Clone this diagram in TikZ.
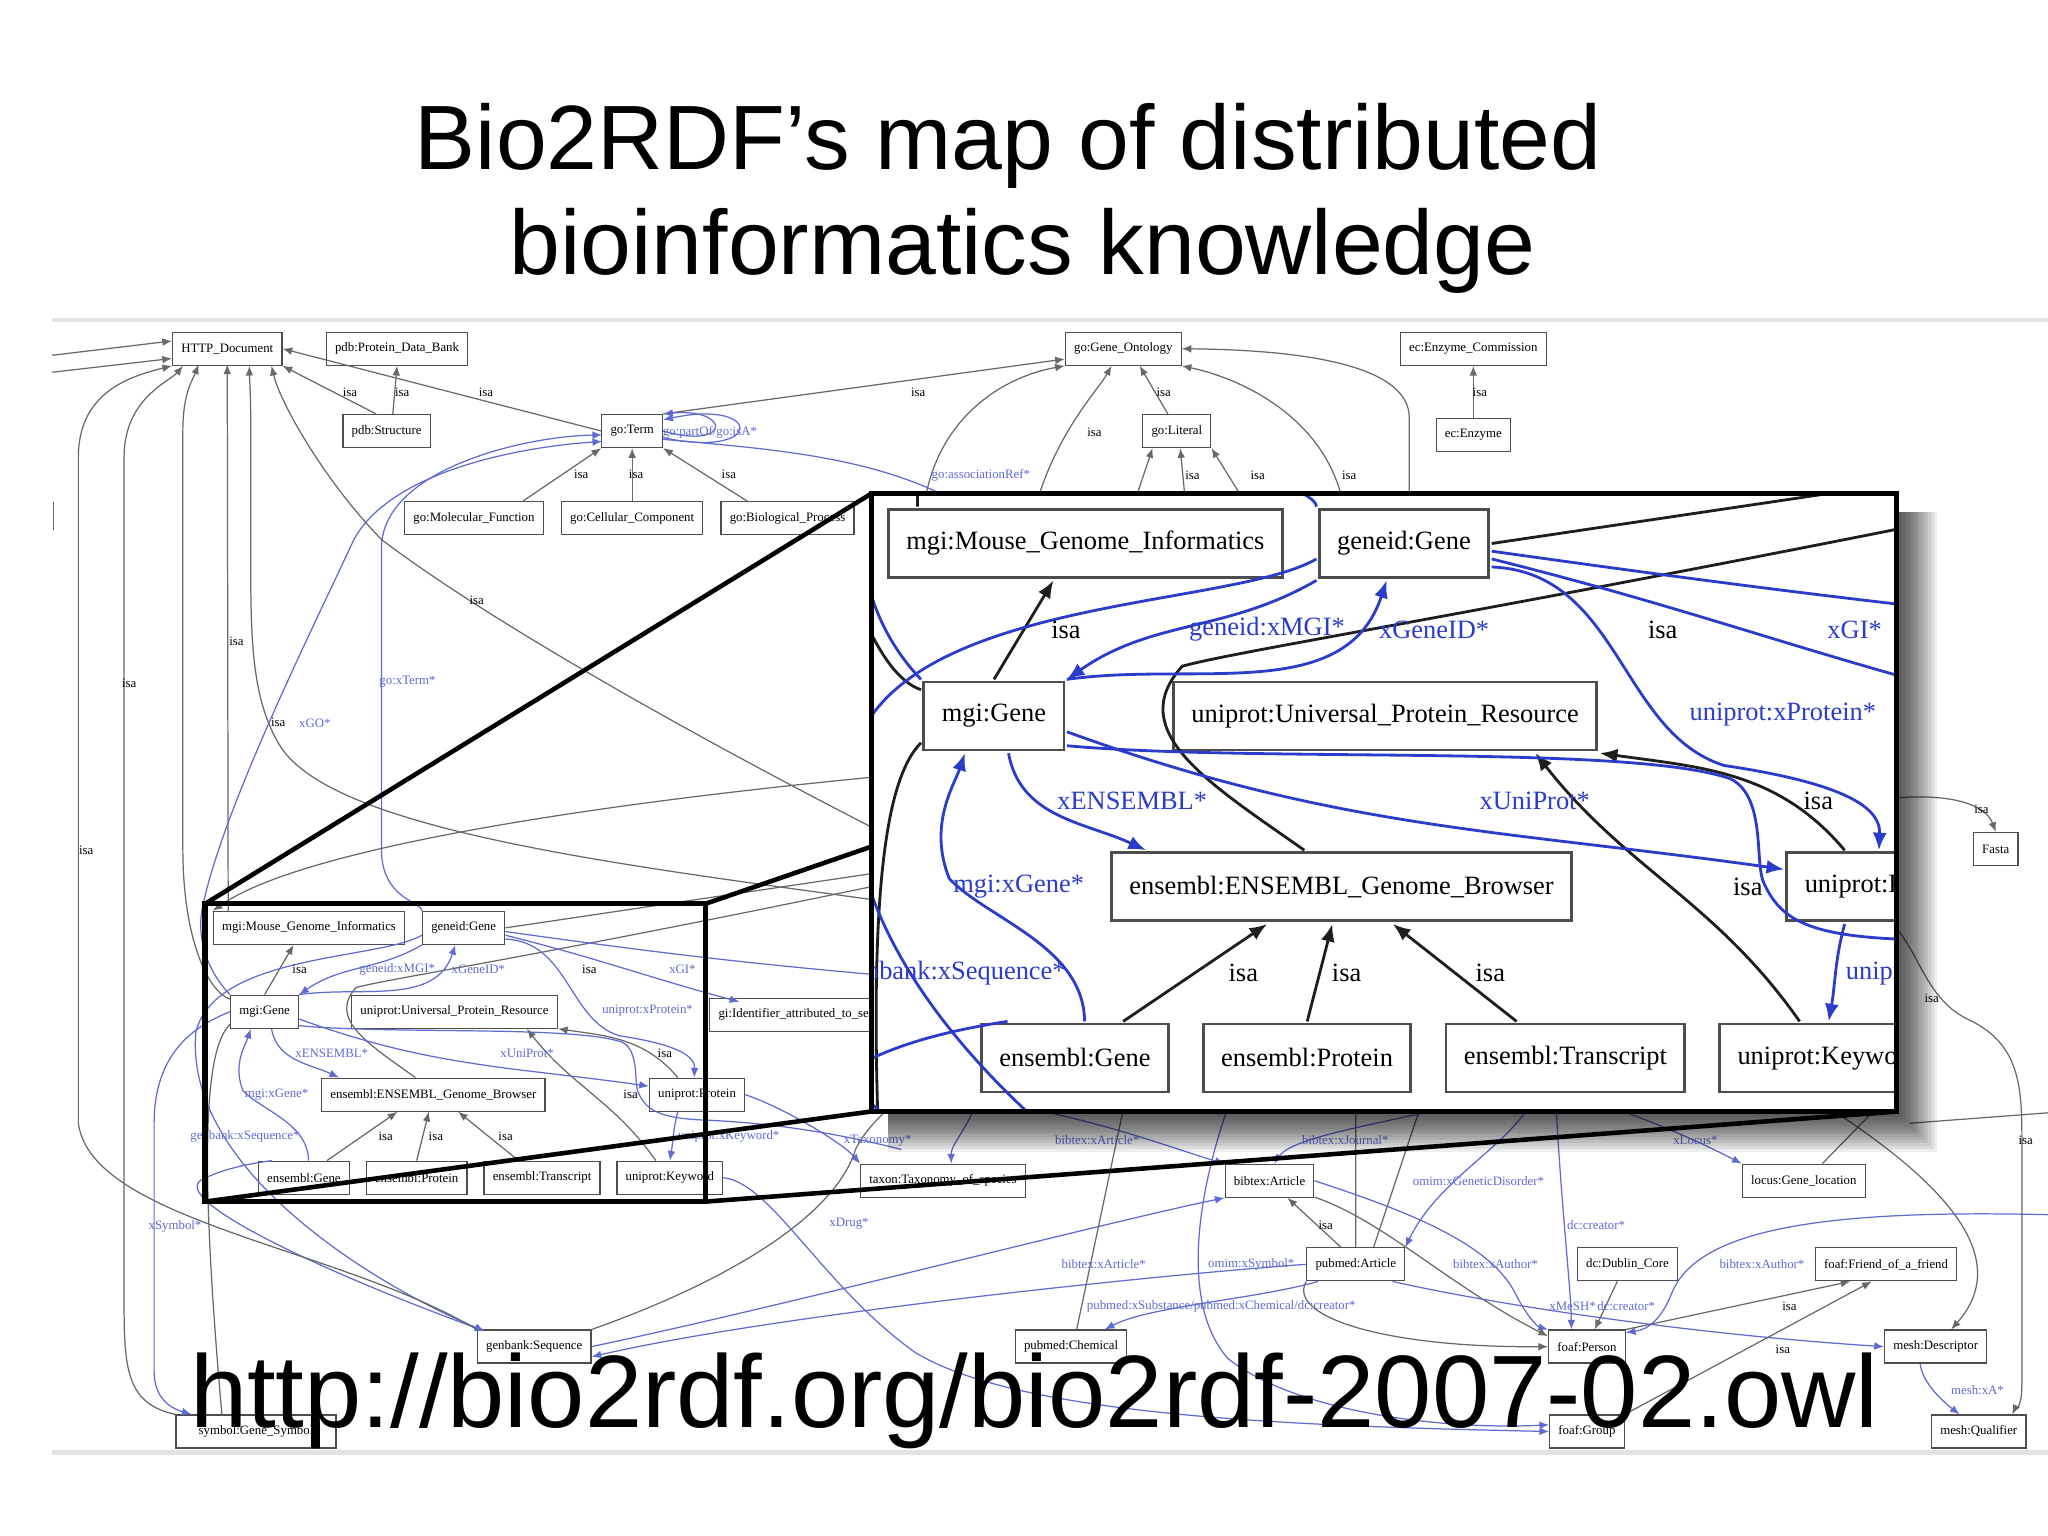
\documentclass[tikz,border=0pt]{standalone}
\usepackage{fontspec}
\setmainfont{Liberation Sans}
\newfontfamily\graphfont{Liberation Serif}
\usetikzlibrary{arrows.meta,calc,positioning}
\definecolor{linkblue}{HTML}{2B3CCB}
\definecolor{linkgray}{HTML}{1E1E1E}
\definecolor{fadeblue}{HTML}{5F6AD2}
\definecolor{fadegray}{HTML}{686868}
\definecolor{boxgray}{HTML}{4D4D4D}
\definecolor{rulegray}{HTML}{E2E2E2}
\colorlet{curblue}{fadeblue}
\colorlet{curgray}{fadegray}
\newcommand{\linkwidth}{0.35pt}
\tikzset{
    > = {Latex[length=1pt 5, width=0.8pt 4]},
    boxnode/.style = {
        draw = boxgray,
        line width = \linkwidth,
        fill = white,
        text = black,
        font = \graphfont\fontsize{3.65}{4.4}\selectfont,
        inner xsep = 0.87mm,
        inner ysep = 0pt,
        minimum height = 3.3mm
    },
    isaedge/.style = {draw = curgray, line width = \linkwidth, ->},
    refedge/.style = {draw = curblue, line width = \linkwidth, ->},
    isalabel/.style = {font = \graphfont\fontsize{3.65}{4.4}\selectfont, text = black, inner sep = 0pt},
    reflabel/.style = {font = \graphfont\fontsize{3.65}{4.4}\selectfont, text = curblue, inner sep = 0pt},
    zoomframe/.style = {draw = black, line width = 1.5pt},
    zoomray/.style = {draw = black, line width = 1.3pt},
    titletext/.style = {font = \fontsize{26}{30}\selectfont, text = black, inner sep = 0pt},
    urltext/.style = {font = \fontsize{29.3}{33}\selectfont, text = black, inner sep = 0pt}
}

% the region that is drawn twice: small in the map, magnified in the big frame
\newcommand{\zoomgraph}{%
    \node (mgiMGI) [boxnode] at (236.6,710.4) {mgi:Mouse\_Genome\_Informatics};
    \node (geneidGene) [boxnode] at (355,710.4) {geneid:Gene};
    \node (mgiGene) [boxnode] at (202.6,774.6) {mgi:Gene};
    \node (uniUPR) [boxnode] at (348,774.6) {uniprot:Universal\_Protein\_Resource};
    \node (ensBrowser) [boxnode] at (331.8,838.1) {ensembl:ENSEMBL\_Genome\_Browser};
    \node (uniProt) [boxnode] at (533.7,838.1) {uniprot:Protein};
    \node (ensGene) [boxnode] at (232.7,901.7) {ensembl:Gene};
    \node (ensProtein) [boxnode] at (319,901.7) {ensembl:Protein};
    \node (ensTranscript) [boxnode] at (415,901.7) {ensembl:Transcript};
    \node (uniKeyword) [boxnode] at (512.8,901.7) {uniprot:Keyword};
    %far ends
    \coordinate (zHttp) at (174,279);
    \coordinate (zHttpB) at (152,279);
    \coordinate (zGoTermA) at (461,333);
    \coordinate (zGoTermB) at (461,338);
    \coordinate (zGi) at (566,767);
    \coordinate (zGiB) at (690,748);
    \coordinate (zGenbank) at (371,1019);
    \coordinate (zUpRight) at (700,672);
    \coordinate (zUpRightB) at (680,667);
    \coordinate (zLowRight) at (690,880);
    \coordinate (zSymbol) at (170,1084);
    %isa
    \draw[isaedge] (mgiGene.north) -- ($(mgiMGI.south west)!0.42!(mgiMGI.south east)$);
    \draw[isaedge] ($(ensGene.north west)!0.75!(ensGene.north east)$) -- ($(ensBrowser.south west)!0.34!(ensBrowser.south east)$);
    \draw[isaedge] (ensProtein.north) -- ($(ensBrowser.south west)!0.48!(ensBrowser.south east)$);
    \draw[isaedge] ($(ensTranscript.north west)!0.3!(ensTranscript.north east)$) -- ($(ensBrowser.south west)!0.61!(ensBrowser.south east)$);
    \draw[isaedge] ($(uniProt.north west)!0.3!(uniProt.north east)$) to[out=130, in=-8] (uniUPR.south east);
    \draw[isaedge] ($(uniKeyword.north west)!0.37!(uniKeyword.north east)$) to[out=125, in=-52] ($(uniUPR.south west)!0.85!(uniUPR.south east)$);
    \draw[isaedge] ($(mgiMGI.north west)!0.08!(mgiMGI.north east)$) -- (zHttp);
    \draw[isaedge] (mgiGene.160) .. controls (160,760) and (140,720) .. (140,650) -- (140,330) .. controls (140,300) and (148,290) .. (zHttpB);
    \draw[isaedge, -] ($(ensBrowser.north west)!0.42!(ensBrowser.north east)$) .. controls (282.7,799.7) and (250.7,780.3) .. (272.6,756.1) .. controls (299.3,748.8) and (415.7,731.8) .. (zUpRight);
    \draw[isaedge, -] (geneidGene.east) -- (zUpRightB);
    \draw[isaedge, -] (mgiGene.200) .. controls (160,800) and (150,860) .. (zSymbol);
    %cross references
    \draw[refedge] (geneidGene.south west) to[out=210, in=35] (mgiGene.north east);
    \draw[refedge] (mgiGene.north east) to[out=8, in=-108] ($(geneidGene.south west)!0.4!(geneidGene.south east)$);
    \draw[refedge] (geneidGene.-15) .. controls (435.2,721.1) and (435.2,780.8) .. (474,793) .. controls (522.5,800.2) and (532.2,809.9) .. ($(uniProt.north west)!0.47!(uniProt.north east)$);
    \draw[refedge] (geneidGene.-10) to[out=-14, in=165] (zGi);
    \draw[refedge, -] (geneidGene.-5) to[out=-8, in=175] (zGiB);
    \draw[refedge] (mgiGene.-12) to[out=-20, in=172] (uniProt.170);
    \draw[refedge, -] (mgiGene.-22) .. controls (300,792) and (440,785) .. (476.5,798) .. controls (490,805) and (485,830) .. (489,837.2) .. controls (495,850) and (505,856) .. (538,857.5) .. controls (600,860) and (650,870) .. (zLowRight);
    \draw[refedge] ($(mgiGene.south west)!0.6!(mgiGene.south east)$) to[out=-80, in=155] ($(ensBrowser.north west)!0.08!(ensBrowser.north east)$);
    \draw[refedge] ($(ensGene.north west)!0.55!(ensGene.north east)$) .. controls (236,860) and (200,850) .. (186,835) .. controls (178,815) and (188,800) .. ($(mgiGene.south west)!0.3!(mgiGene.south east)$);
    \draw[refedge] ($(ensGene.north west)!0.15!(ensGene.north east)$) .. controls (182.7,892) and (168.2,896.8) .. (157.5,901.7) .. controls (120,915) and (250,975) .. (zGenbank);
    \draw[refedge] ($(uniProt.south west)!0.3!(uniProt.south east)$) to[out=-105, in=80] (uniKeyword.north);
    \draw[refedge] (geneidGene.190) .. controls (290,735) and (165,730) .. (150,790) .. controls (140,900) and (300,990) .. (zGenbank);
    \draw[refedge] (geneidGene.north west) .. controls (322,690) and (292,688) .. (292,650) -- (292,420) .. controls (292,360) and (400,334) .. (zGoTermA);
    \draw[refedge] (mgiGene.north west) .. controls (160,745) and (150,720) .. (155,695) .. controls (170,620) and (240,480) .. (271,413) .. controls (300,360) and (400,342) .. (zGoTermB);
    %labels
    \node (zlIsaA) [isalabel] at (229.4,742.5) {isa};
    \node (zlMGI) [reflabel] at (304.1,742.5) {geneid:xMGI*};
    \node (zlGeneID) [reflabel] at (366.2,742.5) {xGeneID*};
    \node (zlIsaB) [isalabel] at (451.2,742.5) {isa};
    \node (zlGI) [reflabel] at (522.5,742.5) {xGI*};
    \node (zlProtein) [reflabel] at (495.8,774) {uniprot:xProtein*};
    \node (zlEnsembl) [reflabel] at (254,806.1) {xENSEMBL*};
    \node (zlUniProt) [reflabel] at (403.6,806.1) {xUniProt*};
    \node (zlIsaC) [isalabel] at (509,806.1) {isa};
    \node (zlGene) [reflabel] at (211.8,838.1) {mgi:xGene*};
    \node (zlIsaD) [isalabel] at (482.8,838.1) {isa};
    \node (zlSeq) [reflabel, anchor=east] at (229.8,870.2) {genbank:xSequence*};
    \node (zlIsaE) [isalabel] at (295.3,870.2) {isa};
    \node (zlIsaF) [isalabel] at (333.7,870.2) {isa};
    \node (zlIsaG) [isalabel] at (387.1,870.2) {isa};
    \node (zlKeyword) [reflabel, anchor=west] at (518.7,870.2) {uniprot:xKeyword*};
}

\begin{document}
\begin{tikzpicture}[x=0.13061mm, y=-0.13061mm]
    \useasboundingbox (0,0) rectangle (1568,1176);
    \fill[white] (0,0) rectangle (1568,1176);

%add title
    \node (title1) [titletext, anchor=base] at (772,130) {Bio2RDF’s map of distributed};
    \node (title2) [titletext, anchor=base] at (783,210) {bioinformatics knowledge};

%frame of the map
    \coordinate (ruleTL) at (40,245);
    \coordinate (ruleTR) at (1568,245);
    \coordinate (ruleBL) at (40,1112);
    \coordinate (ruleBR) at (1568,1112);
    \draw[rulegray, line width=1.2pt] (ruleTL) -- (ruleTR);
    \draw[rulegray, line width=1.2pt] (ruleBL) -- (ruleBR);
    \coordinate (tickA) at (41,384);
    \coordinate (tickB) at (41,406);
    \draw[fadegray, line width=0.5pt] (tickA) -- (tickB);
    \coordinate (inNW) at (157,692);
    \coordinate (inNE) at (540,692);
    \coordinate (inSW) at (157,920);
    \coordinate (inSE) at (540,920);
    \coordinate (bigNW) at (667,378);
    \coordinate (bigNE) at (1452,378);
    \coordinate (bigSW) at (667,851);
    \coordinate (bigSE) at (1452,851);

%nodes of the map
    \node (http) [boxnode] at (174,267) {HTTP\_Document};
    \node (pdbPDB) [boxnode] at (304,267) {pdb:Protein\_Data\_Bank};
    \node (goGO) [boxnode] at (860,267) {go:Gene\_Ontology};
    \node (ecEC) [boxnode] at (1128,267) {ec:Enzyme\_Commission};
    \node (pdbStruct) [boxnode] at (296,330) {pdb:Structure};
    \node (goTerm) [boxnode] at (484,330) {go:Term};
    \node (goLit) [boxnode] at (901,330) {go:Literal};
    \node (ecEnz) [boxnode, below=5.2mm of ecEC] {ec:Enzyme};
    \node (goCC) [boxnode, below=5.3mm of goTerm] {go:Cellular\_Component};
    \node (goMF) [boxnode, left=1.7mm of goCC] {go:Molecular\_Function};
    \node (goBP) [boxnode, right=1.7mm of goCC] {go:Biological\_Process};
    \node (fasta) [boxnode] at (1528,650) {Fasta};
    \node (giId) [boxnode, anchor=west] at (543,777) {gi:Identifier\_attributed\_to\_sequence};
    \node (taxon) [boxnode] at (722,904) {taxon:Taxonomy\_of\_species};
    \node (bibArt) [boxnode] at (972,904) {bibtex:Article};
    \node (locus) [boxnode] at (1381,904) {locus:Gene\_location};
    \node (pmArt) [boxnode] at (1038,968) {pubmed:Article};
    \node (dc) [boxnode] at (1246,968) {dc:Dublin\_Core};
    \node (foafFriend) [boxnode] at (1444,968) {foaf:Friend\_of\_a\_friend};
    \node (genbank) [boxnode] at (409,1031) {genbank:Sequence};
    \node (pmChem) [boxnode] at (820,1031) {pubmed:Chemical};
    \node (foafPerson) [boxnode] at (1215,1031) {foaf:Person};
    \node (meshDesc) [boxnode] at (1482,1031) {mesh:Descriptor};
    \node (foafGroup) [boxnode] at (1215,1096) {foaf:Group};
    \node (meshQual) [boxnode] at (1515,1096) {mesh:Qualifier};
    \node (symbol) [boxnode, minimum width=16mm] at (196,1096) {symbol:Gene\_Symbol};

%small copy of the zoomed region
    \zoomgraph

%links at the top
    \coordinate (inA) at (40,272);
    \coordinate (inB) at (40,285);
    \draw[isaedge] (inA) -- (http.172);
    \draw[isaedge] (inB) -- (http.190);
    \draw[isaedge] ($(pdbStruct.north west)!0.38!(pdbStruct.north east)$) -- (http.south east);
    \draw[isaedge] ($(pdbStruct.north west)!0.57!(pdbStruct.north east)$) -- (pdbPDB.south);
    \draw[isaedge] (goTerm.west) -- (http.east);
    \draw[isaedge] ($(goMF.north west)!0.85!(goMF.north east)$) -- (goTerm.south west);
    \draw[isaedge] (goCC.north) -- (goTerm.south);
    \draw[isaedge] ($(goBP.north west)!0.2!(goBP.north east)$) -- (goTerm.south east);
    \draw[isaedge] (goTerm.north east) -- (goGO.190);
    \draw[isaedge] ($(goLit.north west)!0.37!(goLit.north east)$) -- ($(goGO.south west)!0.64!(goGO.south east)$);
    \draw[isaedge] (ecEnz.north) -- (ecEC.south);
    \coordinate (upA) at (706,410);
    \coordinate (upB) at (788,410);
    \coordinate (upC) at (1031,410);
    \coordinate (upD) at (1079,410);
    \coordinate (upE) at (860,410);
    \coordinate (upF) at (910,410);
    \coordinate (upG) at (969,410);
    \coordinate (upH) at (770,410);
    \draw[isaedge] (upA) .. controls (706,330) and (760,290) .. (goGO.south west);
    \draw[isaedge] (upB) .. controls (800,340) and (840,300) .. ($(goGO.south west)!0.4!(goGO.south east)$);
    \draw[isaedge] (upC) .. controls (1030,330) and (960,292) .. (goGO.south east);
    \draw[isaedge] (upD) -- (1079,320) .. controls (1079,280) and (1000,268) .. (goGO.east);
    \draw[isaedge] (upE) -- ($(goLit.south west)!0.15!(goLit.south east)$);
    \draw[isaedge] (upF) -- ($(goLit.south west)!0.55!(goLit.south east)$);
    \draw[isaedge] (upG) -- (goLit.south east);
    \draw[refedge] (goTerm.east) .. controls (560,345) and (560,312) .. (goTerm.north east);
    \draw[refedge] (goTerm.-12) .. controls (585,352) and (585,305) .. (goTerm.20);
    \draw[refedge, -] (goTerm.-15) .. controls (600,345) and (700,350) .. (upH);

%links down the left side
    \draw[isaedge] (genbank.north west) .. controls (260,955) and (70,935) .. (60,860) -- (60,350) .. controls (60,300) and (100,288) .. (http.south west);
    \draw[isaedge] (symbol.north west) .. controls (98,1075) and (95,1050) .. (95,1000) -- (95,350) .. controls (95,305) and (130,292) .. ($(http.south west)!0.1!(http.south east)$);
    \coordinate (downA) at (720,696);
    \coordinate (downB) at (720,660);
    \coordinate (downC) at (700,592);
    \draw[isaedge] (downA) .. controls (500,665) and (260,640) .. (215,572) .. controls (195,540) and (192,500) .. (192,440) -- (192,330) .. controls (192,300) and (191,290) .. ($(http.south west)!0.7!(http.south east)$);
    \draw[isaedge] (downB) .. controls (560,580) and (380,480) .. (292,413) .. controls (250,370) and (215,310) .. ($(http.south west)!0.9!(http.south east)$);
    \draw[isaedge] (downC) .. controls (450,615) and (230,650) .. (mgiMGI.north west);
    \draw[refedge] (mgiGene.west) .. controls (150,785) and (118,805) .. (118,860) -- (118,1050) .. controls (118,1070) and (130,1078) .. ($(symbol.north west)!0.1!(symbol.north east)$);

%links at the bottom
    \coordinate (taxUp) at (750,835);
    \coordinate (seqUp) at (700,830);
    \draw[refedge] (uniProt.east) .. controls (600,848) and (645,875) .. (taxon.north west);
    \draw[refedge] (taxUp) .. controls (745,860) and (728,875) .. ($(taxon.north west)!0.55!(taxon.north east)$);
    \draw[isaedge, -] (genbank.north east) .. controls (560,980) and (640,930) .. (655,880) .. controls (665,860) and (680,850) .. (seqUp);
    \draw[refedge] (uniKeyword.east) .. controls (590,905) and (630,985) .. (700,1035) .. controls (780,1085) and (1000,1092) .. (foafGroup.west);
    \draw[refedge] (genbank.east) .. controls (600,1000) and (850,935) .. (bibArt.south west);
    \draw[refedge] (pmArt.west) .. controls (900,975) and (600,1005) .. (genbank.-10);
    \draw[isaedge] ($(pmArt.north west)!0.35!(pmArt.north east)$) -- ($(bibArt.south west)!0.7!(bibArt.south east)$);
    \coordinate (artUpA) at (1038,840);
    \coordinate (artUpB) at (1090,840);
    \draw[isaedge, -] ($(pmArt.north west)!0.5!(pmArt.north east)$) -- (artUpA);
    \draw[isaedge, -] ($(pmArt.north west)!0.68!(pmArt.north east)$) -- (artUpB);
    \coordinate (articleIn) at (770,845);
    \coordinate (journalIn) at (1120,845);
    \coordinate (omimIn) at (1170,848);
    \coordinate (symbolIn) at (940,848);
    \draw[refedge] (articleIn) .. controls (850,860) and (900,880) .. (bibArt.north west);
    \draw[refedge] (journalIn) .. controls (1060,860) and (990,870) .. ($(bibArt.north west)!0.55!(bibArt.north east)$);
    \draw[refedge] (omimIn) .. controls (1150,880) and (1100,905) .. (pmArt.north east);
    \draw[refedge] (symbolIn) .. controls (915,920) and (905,1000) .. (940,1040) .. controls (990,1080) and (1100,1095) .. (foafGroup.170);
    \draw[refedge] (bibArt.east) .. controls (1070,925) and (1140,950) .. (1160,990) .. controls (1170,1010) and (1178,1016) .. (foafPerson.north west);
    \draw[isaedge] (bibArt.-20) .. controls (1060,935) and (1110,985) .. (foafPerson.165);
    \draw[isaedge] (pmArt.south west) .. controls (985,1008) and (1060,1032) .. (foafPerson.west);
    \draw[refedge] (pmArt.-25) .. controls (1150,1000) and (1300,1022) .. (meshDesc.west);
    \draw[refedge] ($(pmArt.south west)!0.12!(pmArt.south east)$) .. controls (960,995) and (880,1000) .. ($(pmChem.north west)!0.8!(pmChem.north east)$);
    \coordinate (chemUp) at (862,840);
    \draw[isaedge, -] ($(pmChem.north west)!0.55!(pmChem.north east)$) -- (chemUp);
    \draw[isaedge] ($(dc.south west)!0.4!(dc.south east)$) -- ($(foafPerson.north west)!0.6!(foafPerson.north east)$);
    \coordinate (creatorIn) at (1191,840);
    \draw[refedge] (creatorIn) .. controls (1195,920) and (1203,990) .. ($(foafPerson.north west)!0.3!(foafPerson.north east)$);
    \draw[isaedge] (foafPerson.north east) -- ($(foafFriend.south west)!0.25!(foafFriend.south east)$);
    \draw[isaedge] (foafGroup.north east) -- ($(foafFriend.south west)!0.4!(foafFriend.south east)$);
    \coordinate (authorIn) at (1568,930);
    \draw[refedge] (authorIn) .. controls (1400,926) and (1300,940) .. (1280,990) .. controls (1272,1010) and (1262,1018) .. (foafPerson.20);
    \coordinate (locusIn) at (1240,850);
    \coordinate (locusUp) at (1440,845);
    \draw[refedge] (locusIn) .. controls (1290,868) and (1320,884) .. (locus.north west);
    \draw[isaedge, -] ($(locus.north west)!0.65!(locus.north east)$) -- (locusUp);
    \coordinate (descIn) at (1400,848);
    \draw[isaedge] (descIn) .. controls (1480,900) and (1545,960) .. ($(meshDesc.north west)!0.65!(meshDesc.north east)$);
    \draw[refedge] ($(meshDesc.south west)!0.35!(meshDesc.south east)$) .. controls (1472,1060) and (1490,1075) .. ($(meshQual.north west)!0.3!(meshQual.north east)$);

%links on the right
    \coordinate (fastaIn) at (1440,612);
    \coordinate (qualIn) at (1440,700);
    \coordinate (edgeR) at (1568,852);
    \coordinate (edgeRB) at (1462,860);
    \draw[isaedge] (fastaIn) .. controls (1490,606) and (1520,615) .. (fasta.north);
    \draw[isaedge] (qualIn) .. controls (1470,720) and (1470,765) .. (1510,782) .. controls (1545,800) and (1548,830) .. (1548,870) -- (1548,1060) .. controls (1548,1080) and (1542,1080) .. ($(meshQual.north west)!0.85!(meshQual.north east)$);
    \draw[isaedge, -] (edgeR) -- (edgeRB);

%labels of the map
    \node (lIsa1) [isalabel] at (268,300) {isa};
    \node (lIsa2) [isalabel] at (308,300) {isa};
    \node (lIsa3) [isalabel] at (372,300) {isa};
    \node (lIsa4) [isalabel] at (445,363) {isa};
    \node (lIsa5) [isalabel] at (487,363) {isa};
    \node (lIsa6) [isalabel] at (558,363) {isa};
    \node (lIsa7) [isalabel] at (703,300) {isa};
    \node (lIsa8) [isalabel] at (838,331) {isa};
    \node (lIsa9) [isalabel] at (891,300) {isa};
    \node (lIsa10) [isalabel] at (913,364) {isa};
    \node (lIsa11) [isalabel] at (963,364) {isa};
    \node (lIsa12) [isalabel] at (1033,364) {isa};
    \node (lIsa13) [isalabel] at (1133,300) {isa};
    \node (lIsa14) [isalabel] at (66,651) {isa};
    \node (lIsa15) [isalabel] at (99,523) {isa};
    \node (lIsa16) [isalabel] at (181,491) {isa};
    \node (lIsa17) [isalabel] at (213,553) {isa};
    \node (lIsa18) [isalabel] at (365,460) {isa};
    \node (lIsa19) [isalabel] at (1015,938) {isa};
    \node (lIsa20) [isalabel] at (1370,1000) {isa};
    \node (lIsa21) [isalabel] at (1365,1033) {isa};
    \node (lIsa22) [isalabel] at (1517,620) {isa};
    \node (lIsa23) [isalabel] at (1479,764) {isa};
    \node (lIsa24) [isalabel] at (1551,873) {isa};
    \node (lPart) [reflabel, anchor=west] at (507,331) {go:partOf/go:isA*};
    \node (lAssoc) [reflabel] at (751,364) {go:associationRef*};
    \node (lXTerm) [reflabel] at (312,522) {go:xTerm*};
    \node (lXGO) [reflabel] at (241,554) {xGO*};
    \node (lTax) [reflabel] at (672,873) {xTaxonomy*};
    \node (lArtA) [reflabel] at (840,873) {bibtex:xArticle*};
    \node (lJournal) [reflabel] at (1030,873) {bibtex:xJournal*};
    \node (lLocus) [reflabel] at (1298,873) {xLocus*};
    \node (lOmim) [reflabel] at (1132,904) {omim:xGeneticDisorder*};
    \node (lSymbol) [reflabel] at (134,939) {xSymbol*};
    \node (lDrug) [reflabel] at (650,937) {xDrug*};
    \node (lArtB) [reflabel] at (845,968) {bibtex:xArticle*};
    \node (lOmimSym) [reflabel] at (958,968) {omim:xSymbol*};
    \node (lAuthA) [reflabel] at (1145,968) {bibtex:xAuthor*};
    \node (lAuthB) [reflabel] at (1349,968) {bibtex:xAuthor*};
    \node (lCreatorA) [reflabel] at (1222,938) {dc:creator*};
    \node (lSubst) [reflabel] at (935,1000) {pubmed:xSubstance/pubmed:xChemical/dc:creator*};
    \node (lMesh) [reflabel] at (1204,1000) {xMeSH*};
    \node (lCreatorB) [reflabel] at (1245,1000) {dc:creator*};
    \node (lQual) [reflabel] at (1514,1064) {mesh:xA*};

%zoom frame and rays
    \draw[zoomframe] (inNW) rectangle (inSE);
    \draw[zoomray] (inNW) -- (bigNW);
    \draw[zoomray] (inNE) -- (bigNE);
    \draw[zoomray] (inSW) -- (bigSW);
    \draw[zoomray] (inSE) -- (bigSE);

%shadow and magnified view
    \foreach \k in {1,...,14}
        \fill[black, opacity=0.07] (680,392) rectangle ({1452+2.2*\k},{851+2.2*\k});
    \fill[white] (bigNW) rectangle (bigSE);
    \begin{scope}
        \clip (bigNW) rectangle (bigSE);
        \begin{scope}[shift={(343.6,-1047.5)}, scale=2.06, transform shape]
            \renewcommand{\linkwidth}{0.8pt}
            \colorlet{curblue}{linkblue}
            \colorlet{curgray}{linkgray}
            \zoomgraph
        \end{scope}
    \end{scope}
    \draw[zoomframe] (bigNW) rectangle (bigSE);

%add url
    \node (url) [urltext, anchor=base] at (792,1093) {http://bio2rdf.org/bio2rdf-2007-02.owl};
\end{tikzpicture}
\end{document}
